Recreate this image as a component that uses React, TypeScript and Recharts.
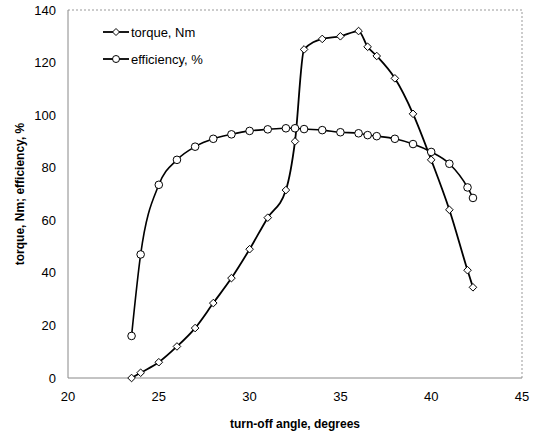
import React from 'react';
import {
  LineChart,
  Line,
  XAxis,
  YAxis,
  Legend,
  ReferenceLine,
} from 'recharts';

// turn-off angle, degrees
const angles = [23.5, 24, 25, 26, 27, 28, 29, 30, 31, 32, 32.5, 33, 34, 35, 36, 36.5, 37, 38, 39, 40, 41, 42, 42.3];
// torque, Nm
const torque = [0, 2, 6, 12, 19, 28.5, 38, 49, 61, 71.5, 90, 125, 129, 130, 132, 126, 122.5, 114, 100.5, 83, 64, 41, 34.5];
// efficiency, %
const efficiency = [16, 47, 73.5, 83, 88, 91, 92.7, 94, 94.6, 95, 95, 94.7, 94.3, 93.5, 93.1, 92.4, 92, 91, 89, 86, 81.5, 72.5, 68.5];

const xTicks = [20, 25, 30, 35, 40, 45];
const yTicks = [0, 20, 40, 60, 80, 100, 120, 140];

const data = angles.map((a, i) => ({ angle: a, torque: torque[i], efficiency: efficiency[i] }));

const font = '"Liberation Sans", Arial, sans-serif';

const Diamond = (props: any) => {
  const { cx, cy, index } = props;
  if (cx == null || cy == null) return <g key={`d-${index}`} />;
  const s = 3.8;
  return (
    <polygon
      key={`d-${index}`}
      points={`${cx},${cy - s} ${cx + s},${cy} ${cx},${cy + s} ${cx - s},${cy}`}
      fill="#fff"
      stroke="#000"
      strokeWidth={1}
    />
  );
};

const renderLegend = () => (
  <svg width={130} height={50} style={{ overflow: 'visible' }}>
    <line x1={0} y1={8} x2={26} y2={8} stroke="#000" strokeWidth={1.8} />
    <polygon points="13,4.5 16.5,8 13,11.5 9.5,8" fill="#fff" stroke="#000" strokeWidth={1} />
    <text x={28} y={12.5} fontSize={13} fontFamily={font} fill="#000">torque, Nm</text>
    <line x1={0} y1={35} x2={26} y2={35} stroke="#000" strokeWidth={1.8} />
    <circle cx={13} cy={35} r={3.5} fill="#fff" stroke="#000" strokeWidth={1} />
    <text x={28} y={39.5} fontSize={13} fontFamily={font} fill="#000">efficiency, %</text>
  </svg>
);

export default function App() {
  return (
    <div style={{ position: 'absolute', left: 0, top: 0, width: 533, height: 434, background: '#fff' }}>
      <LineChart
        width={533}
        height={434}
        data={data}
        margin={{ top: 10, right: 11, bottom: 0, left: 0 }}
      >
        <XAxis
          dataKey="angle"
          type="number"
          domain={[20, 45]}
          ticks={xTicks}
          tickLine={false}
          axisLine={{ stroke: '#888', strokeWidth: 1 }}
          tick={{ fill: '#000', fontSize: 13, fontFamily: font }}
          tickMargin={8}
          height={56}
          label={{ value: 'turn-off angle, degrees', position: 'insideBottom', offset: 6, fill: '#000', fontSize: 12, fontWeight: 'bold', fontFamily: font }}
        />
        <YAxis
          type="number"
          domain={[0, 140]}
          ticks={yTicks}
          tickLine={false}
          axisLine={{ stroke: '#888', strokeWidth: 1 }}
          tick={{ fill: '#000', fontSize: 13, fontFamily: font }}
          tickMargin={6}
          width={68}
          label={{ value: 'torque, Nm;  efficiency, %', angle: -90, position: 'insideLeft', offset: 20, style: { textAnchor: 'middle' }, fill: '#000', fontSize: 12, fontWeight: 'bold', fontFamily: font }}
        />
        <ReferenceLine y={140} stroke="#999" strokeDasharray="2 2" />
        <ReferenceLine x={45} stroke="#999" strokeDasharray="2 2" />
        <Legend
          content={renderLegend}
          layout="horizontal"
          verticalAlign="middle"
          align="center"
          wrapperStyle={{ top: 24, left: 103, width: 130, height: 50 }}
        />
        <Line
          type="monotone"
          dataKey="torque"
          stroke="#000"
          strokeWidth={1.8}
          dot={<Diamond />}
          activeDot={false}
          isAnimationActive={false}
        />
        <Line
          type="monotone"
          dataKey="efficiency"
          stroke="#000"
          strokeWidth={1.6}
          dot={{ r: 3.8, fill: '#fff', stroke: '#000', strokeWidth: 1 }}
          activeDot={false}
          isAnimationActive={false}
        />
      </LineChart>
    </div>
  );
}
